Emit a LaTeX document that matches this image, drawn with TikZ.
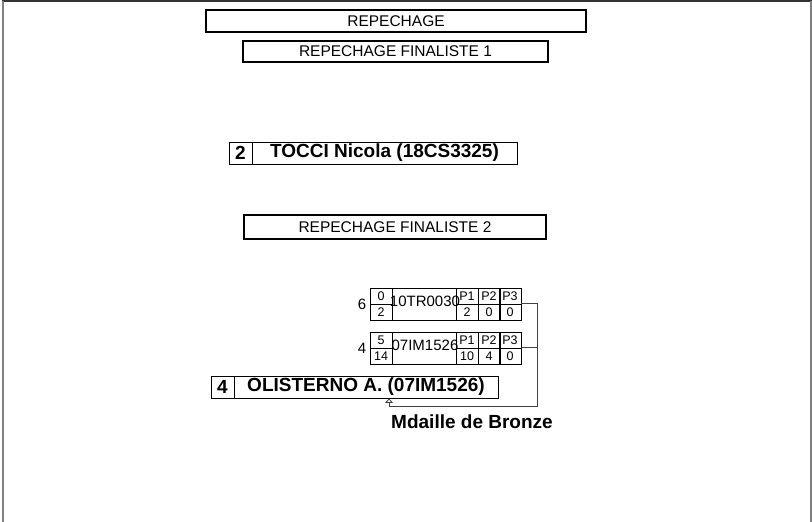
\documentclass[tikz,border=0pt]{standalone}
\usepackage{fontspec}
\setmainfont{Liberation Sans}
\usetikzlibrary{arrows.meta, positioning}

\begin{document}
\begin{tikzpicture}[x=1pt, y=-1pt,
  titlebox/.style={draw, line width=1.6pt, inner sep=0pt, font=\fontsize{15.5}{17}\selectfont},
  seedbox/.style={draw, line width=0.9pt, inner sep=0pt, minimum width=23pt, minimum height=22pt, font=\bfseries\fontsize{19}{21}\selectfont},
  namebox/.style={draw, line width=0.9pt, inner sep=0pt, minimum height=22pt, font=\bfseries\fontsize{19}{21}\selectfont},
  matchcell/.style={draw, line width=0.8pt, inner sep=0pt, font=\fontsize{12.5}{13}\selectfont},
  seedlabel/.style={inner sep=0pt, font=\fontsize{15}{16}\selectfont},
  wire/.style={line width=0.8pt, black!75}]
\useasboundingbox (0,0) rectangle (812,522);

% page frame
\draw[line width=1.5pt, black!80] (2,1) -- (812,1);
\draw[line width=2pt, black!50] (3,1) -- (3,522);
\draw[line width=1.5pt, black!50] (811,1) -- (811,522);

% headings
\node[titlebox, minimum width=380pt, minimum height=22pt] (rep) at (396,21) {REPECHAGE};
\node[titlebox, minimum width=305pt, minimum height=21pt] (repfin1) at (395.5,51.5) {REPECHAGE FINALISTE 1};
\node[titlebox, minimum width=302pt, minimum height=24pt] (repfin2) at (395,227) {REPECHAGE FINALISTE 2};

% finalist 1
\node[seedbox] (tocci-seed) at (240.5,153) {2};
\node[namebox, minimum width=265pt] (tocci-name) at (384.5,153) {TOCCI Nicola (18CS3325)};

% repechage matches
\foreach \row/\yy/\seed/\sa/\sb/\name/\pa/\pb/\pc in
  {1/288/6/0/2/10TR0030/2/0/0, 2/332/4/5/14/07IM1526/10/4/0} {
  \node[seedlabel] (m\row-seed) at (362,\yy+16) {\seed};
  \node[matchcell, minimum width=22pt, minimum height=16pt] (m\row-sa) at (381,\yy+8) {\sa};
  \node[matchcell, minimum width=22pt, minimum height=16pt] (m\row-sb) at (381,\yy+24) {\sb};
  \node[matchcell, minimum width=64pt, minimum height=32pt] (m\row-box) at (424,\yy+16) {};
  \node[seedlabel] (m\row-name) at (425,\yy+13) {\name};
  \foreach \c/\cx/\ptag/\pval in {1/467/P1/\pa, 2/489/P2/\pb, 3/510/P3/\pc} {
    \node[matchcell, minimum width=22pt, minimum height=16pt] (m\row-u\c) at (\cx,\yy+8) {\ptag};
    \node[matchcell, minimum width=22pt, minimum height=16pt] (m\row-v\c) at (\cx,\yy+24) {\pval};
  }
}

% finalist 2
\node[seedbox] (oli-seed) at (222.5,387) {4};
\node[namebox, minimum width=264pt] (oli-name) at (366,387) {OLISTERNO A. (07IM1526)};

% bracket to the winner
\coordinate (jn) at (537,406);
\coordinate (tip) at (389,406);
\draw[wire] (m1-v3.north east) -- (m1-v3.north east -| jn) -- (jn) -- (tip);
\draw[wire] (m2-v3.north east) -- (m2-v3.north east -| jn);
\draw[wire, -{Triangle[open, length=4.5pt, width=8pt, line width=0.8pt]}] (tip) -- (tip |- oli-name.south);

\node[inner sep=0pt, font=\bfseries\fontsize{19}{21}\selectfont] (medal) at (472,422) {Mdaille de Bronze};
\end{tikzpicture}
\end{document}
